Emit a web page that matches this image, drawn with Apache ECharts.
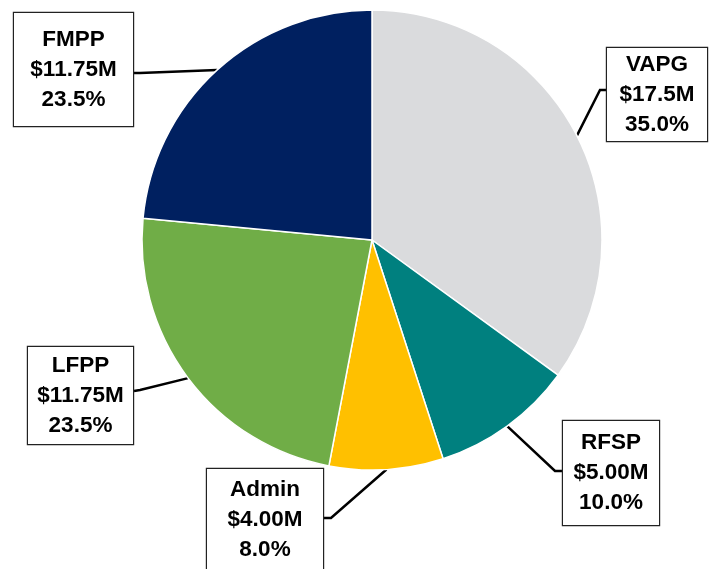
<!DOCTYPE html>
<html>
<head>
<meta charset="utf-8">
<script src="https://cdn.jsdelivr.net/npm/echarts@6/dist/echarts.min.js"></script>
<style>
  html, body { margin: 0; padding: 0; background: #fff; }
  #chart { width: 713px; height: 569px; }
</style>
</head>
<body>
<div id="chart"></div>
<script>
const programs = ['VAPG', 'RFSP', 'Admin', 'LFPP', 'FMPP']
const funding = [17.5, 5.0, 4.0, 11.75, 11.75]
const fundingText = ['$17.5M', '$5.00M', '$4.00M', '$11.75M', '$11.75M']
const colors = ['#dadbdd', '#00807f', '#ffc000', '#70ad47', '#002060']

// label boxes: centre x, centre y, width, height, elbow point, box edge point
const boxes = [
  { cx: 657, cy: 94.5, w: 102, h: 95, bend: [600, 90], end: [606, 90] },
  { cx: 611, cy: 473, w: 98, h: 106, bend: [555, 471], end: [562, 471] },
  { cx: 265, cy: 520, w: 118, h: 104, bend: [331, 518], end: [324, 518] },
  { cx: 80.5, cy: 395.5, w: 107, h: 99, bend: [140, 390], end: [134, 391] },
  { cx: 73.5, cy: 69.5, w: 121, h: 115, bend: [140, 73], end: [134, 73] }
]

const mychart = echarts.init(document.getElementById('chart'))
const option = {
  animation: false,
  series: [{
    type: 'pie',
    center: [372, 240],
    radius: [0, 230],
    startAngle: 90,
    clockwise: true,
    avoidLabelOverlap: false,
    itemStyle: {
      borderColor: '#fff',
      borderWidth: 1.5
    },
    label: {
      show: true,
      position: 'outside',
      color: '#000',
      fontFamily: 'Liberation Sans',
      fontWeight: 'bold',
      fontSize: 22.5,
      lineHeight: 30,
      align: 'center',
      verticalAlign: 'middle',
      backgroundColor: '#fff',
      borderColor: '#222',
      borderWidth: 1.2,
      formatter: function (p) {
        return p.name + '\n' + fundingText[p.dataIndex] + '\n' + p.percent.toFixed(1) + '%'
      }
    },
    labelLine: {
      show: true,
      lineStyle: { color: '#000', width: 2.5 }
    },
    labelLayout: function (params) {
      const b = boxes[params.dataIndex]
      const p0 = params.labelLinePoints ? params.labelLinePoints[0] : b.bend
      return {
        x: b.cx,
        y: b.cy,
        align: 'center',
        verticalAlign: 'middle',
        labelLinePoints: [p0, b.bend, b.end]
      }
    },
    data: programs.map(function (name, i) {
      return {
        name: name,
        value: funding[i],
        itemStyle: { color: colors[i] },
        label: { width: boxes[i].w - 2, height: boxes[i].h - 2 }
      }
    })
  }]
}
mychart.setOption(option)
window.addEventListener('resize', function () {
  mychart.resize()
})
</script>
</body>
</html>
